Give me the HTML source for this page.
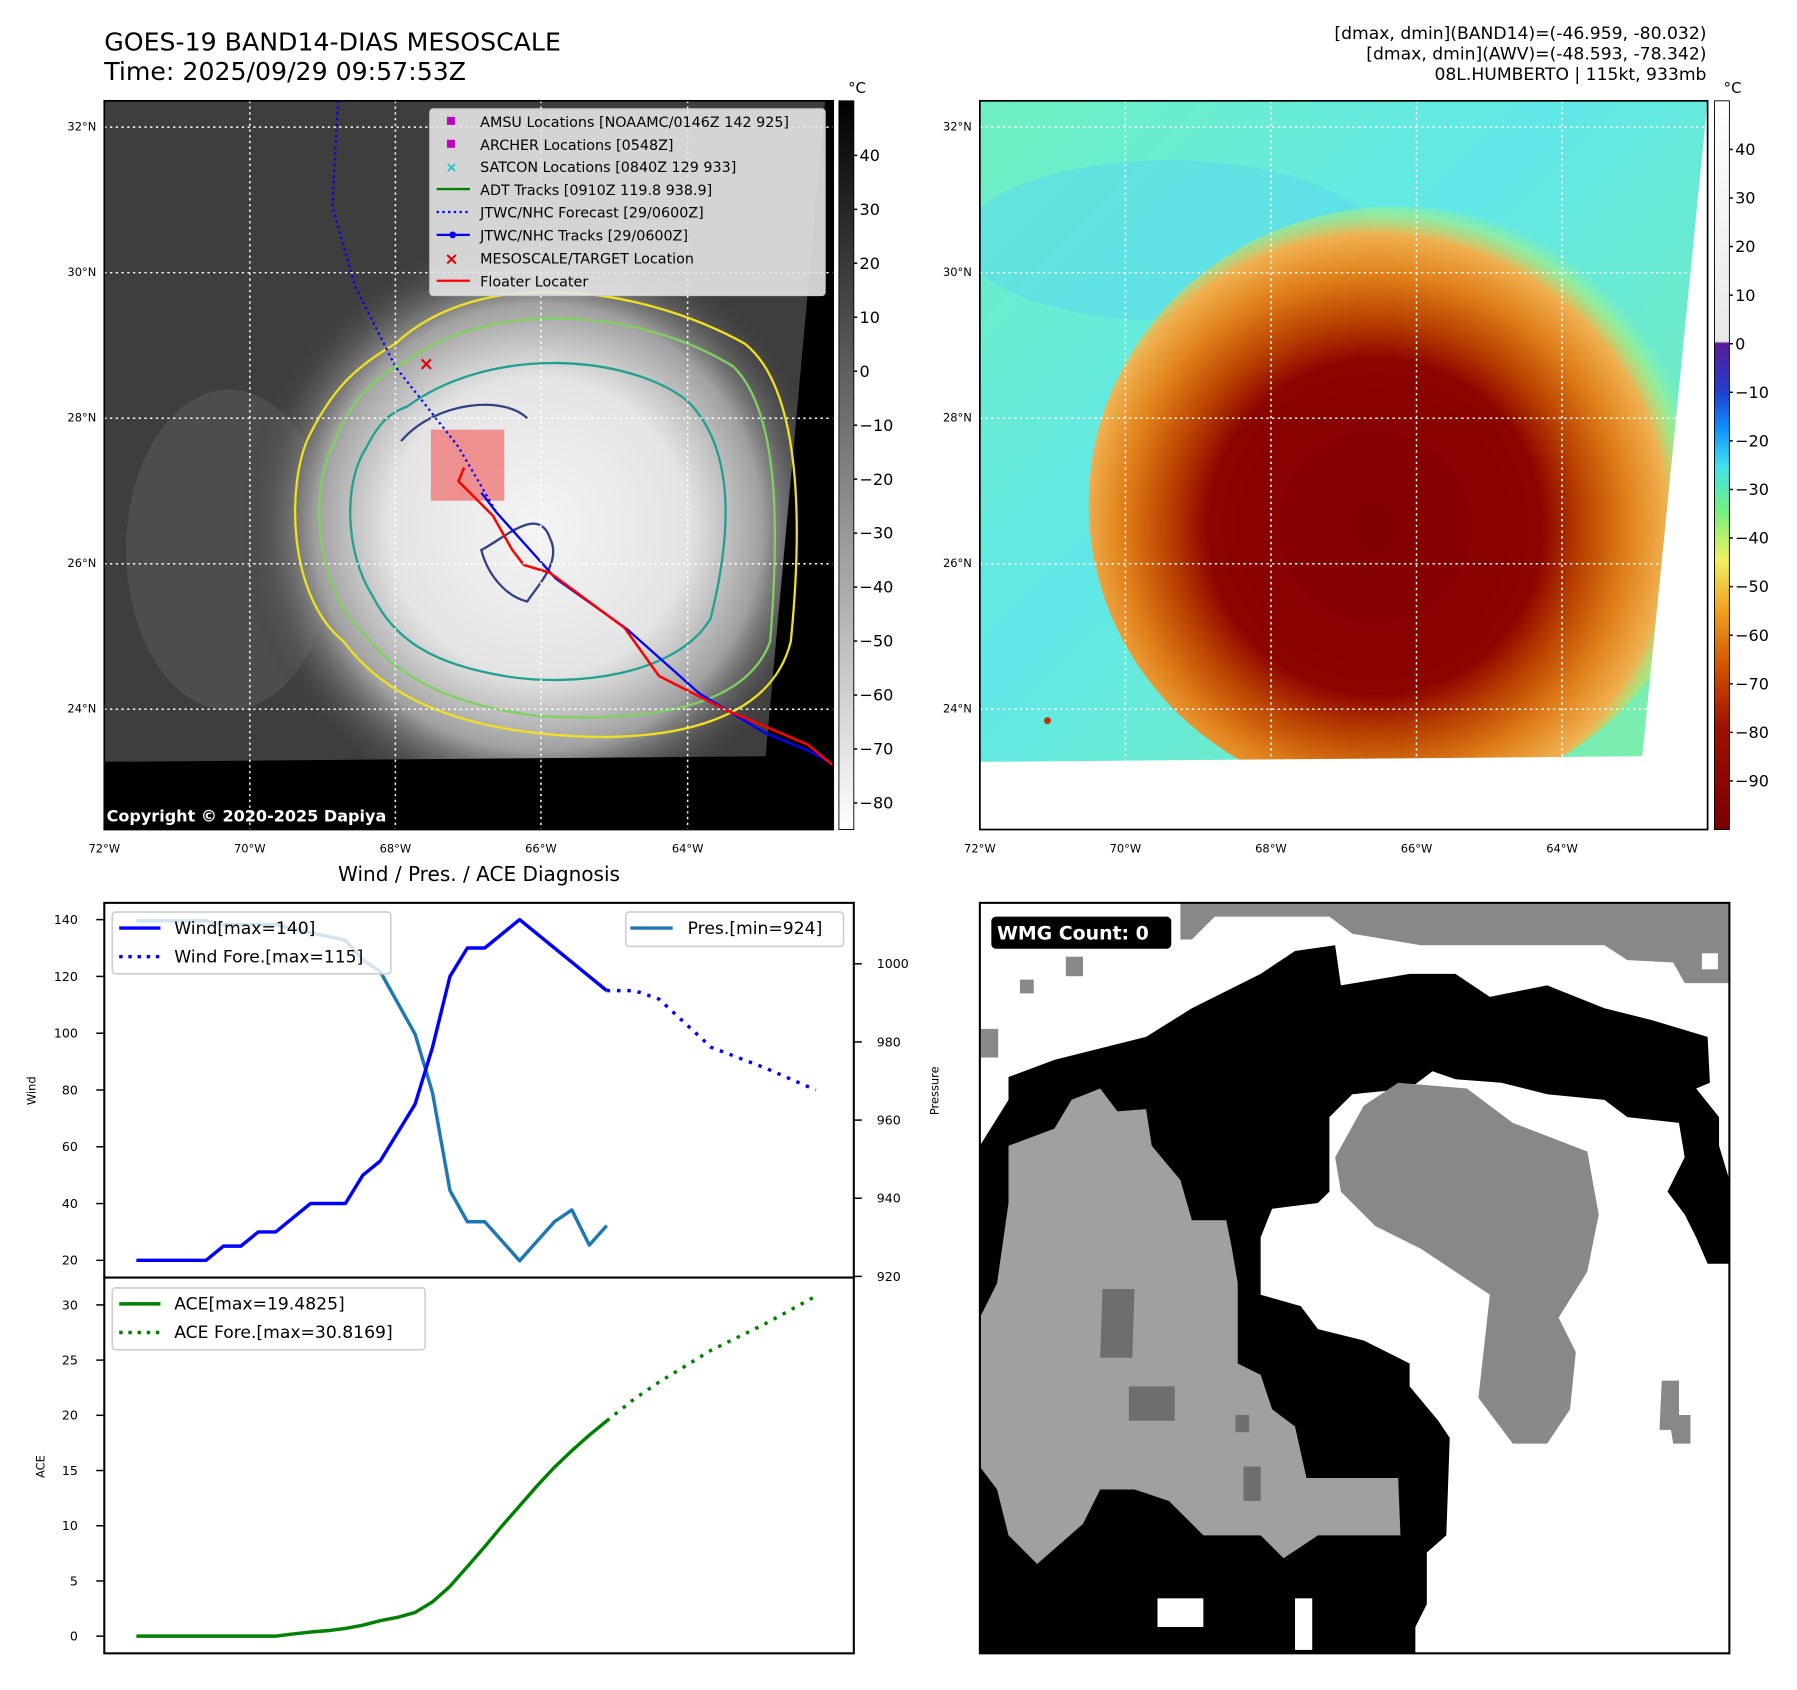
<!DOCTYPE html>
<html><head><meta charset="utf-8"><style>
html,body{margin:0;padding:0;background:#fff;}
svg{display:block;font-family:"DejaVu Sans","Liberation Sans",sans-serif;}
</style></head><body>
<svg id="root" width="1797" height="1690" viewBox="0 0 1568 1475" preserveAspectRatio="none" xmlns="http://www.w3.org/2000/svg">
<defs>
<clipPath id="clipL"><polygon points="91,88 720,88 668,660 91,665"/></clipPath>
<clipPath id="clipR"><polygon points="855,88 1490,88 1433,660 855,665"/></clipPath>
<radialGradient id="irGlow" cx="470" cy="460" r="260" gradientUnits="userSpaceOnUse">
<stop offset="0" stop-color="#f4f4f4"/><stop offset="0.5" stop-color="#e4e4e4"/><stop offset="0.75" stop-color="#a0a0a0"/><stop offset="1" stop-color="#3c3c3c" stop-opacity="0"/>
</radialGradient>
<linearGradient id="cbGray" x1="0" y1="0" x2="0" y2="1"><stop offset="0" stop-color="#000"/><stop offset="1" stop-color="#fff"/></linearGradient>
<linearGradient id="cbJet" x1="0" y1="88" x2="0" y2="724" gradientUnits="userSpaceOnUse">
<stop offset="0" stop-color="#ffffff"/><stop offset="0.33" stop-color="#e8e8e8"/><stop offset="0.333" stop-color="#5a1a9a"/>
<stop offset="0.4" stop-color="#2040d0"/><stop offset="0.45" stop-color="#1090ff"/><stop offset="0.5" stop-color="#40e0f0"/>
<stop offset="0.56" stop-color="#70f080"/><stop offset="0.63" stop-color="#f0f060"/><stop offset="0.7" stop-color="#f0a020"/>
<stop offset="0.78" stop-color="#d05000"/><stop offset="0.86" stop-color="#a01000"/><stop offset="1" stop-color="#7a0000"/>
</linearGradient>
<radialGradient id="hurr" cx="1200" cy="460" r="290" gradientUnits="userSpaceOnUse">
<stop offset="0" stop-color="#820000"/><stop offset="0.5" stop-color="#8a0400"/><stop offset="0.62" stop-color="#b84000"/>
<stop offset="0.76" stop-color="#e0801a"/><stop offset="0.88" stop-color="#f0b050"/><stop offset="0.95" stop-color="#b0f070" stop-opacity="0.5"/><stop offset="1" stop-color="#90f0a0" stop-opacity="0"/>
</radialGradient>
<linearGradient id="bgRight" x1="0" y1="0" x2="1" y2="1">
<stop offset="0" stop-color="#70f0c0"/><stop offset="0.4" stop-color="#60e8e8"/><stop offset="1" stop-color="#80f0a0"/>
</linearGradient>
</defs>

<!-- Titles -->
<text x="91" y="44" font-size="22">GOES-19 BAND14-DIAS MESOSCALE</text>
<text x="91" y="70" font-size="22">Time: 2025/09/29 09:57:53Z</text>
<g font-size="15" text-anchor="end">
<text x="1489" y="34">[dmax, dmin](BAND14)=(-46.959, -80.032)</text>
<text x="1489" y="52">[dmax, dmin](AWV)=(-48.593, -78.342)</text>
<text x="1489" y="70">08L.HUMBERTO | 115kt, 933mb</text>
</g>

<!-- Left IR map -->
<g>
<rect x="91" y="88" width="636" height="636" fill="#000"/>
<g clip-path="url(#clipL)">
<rect x="91" y="88" width="636" height="636" fill="#3e3e3e"/>
<ellipse cx="200" cy="480" rx="90" ry="140" fill="#6a6a6a" opacity="0.35"/>
<ellipse cx="470" cy="460" rx="270" ry="260" fill="url(#irGlow)"/>
</g>
<g fill="none" stroke-width="2">
<path d="M345,300 C420,230 560,250 650,300 C700,340 700,460 690,560 C670,640 560,650 470,640 C380,630 330,600 300,560 C250,520 250,420 270,380 C290,340 310,320 345,300Z" stroke="#f0e020"/>
<path d="M355,315 C430,260 560,270 640,320 C680,360 680,460 672,560 C650,620 560,630 470,625 C390,615 345,590 315,550 C275,510 270,430 290,390 C305,350 325,330 355,315Z" stroke="#80d060"/>
<path d="M355,355 C430,300 550,310 600,350 C640,390 640,460 620,540 C590,590 500,600 440,590 C380,580 345,560 325,520 C300,480 300,420 320,390 C330,370 340,360 355,355Z" stroke="#20a090"/>
<path d="M350,385 C380,350 440,345 460,365 M420,480 C440,470 470,440 480,470 C490,490 470,510 460,525 C440,520 425,500 420,480Z" stroke="#304080"/>
</g>
<rect x="376" y="375" width="64" height="62" fill="#f08080" opacity="0.85"/>
<polyline points="295,88 290,180 310,250 345,320 400,390 433,447" fill="none" stroke="#0000ff" stroke-width="2" stroke-dasharray="2,3"/>
<polyline points="420,430 433,447 485,505 547,549 610,605 668,640 705,655 727,667" fill="none" stroke="#0000ff" stroke-width="2"/>
<polyline points="405,408 400,420 430,450 447,480 457,493 480,500 545,548 575,590 634,620 670,635 705,650 727,668" fill="none" stroke="#ff0000" stroke-width="2.2"/>
<text x="372" y="323" font-size="16" font-weight="bold" fill="#e00000" text-anchor="middle">×</text>
</g>
<g stroke="#fff" stroke-width="1.3" stroke-dasharray="2,3">
<line x1="91" y1="111" x2="727" y2="111"/><line x1="91" y1="238" x2="727" y2="238"/><line x1="91" y1="365" x2="727" y2="365"/><line x1="91" y1="492" x2="727" y2="492"/><line x1="91" y1="619" x2="727" y2="619"/>
<line x1="218" y1="88" x2="218" y2="724"/><line x1="345" y1="88" x2="345" y2="724"/><line x1="472" y1="88" x2="472" y2="724"/><line x1="600" y1="88" x2="600" y2="724"/>
</g>
<g>
<rect x="375" y="95" width="345" height="163" rx="3" fill="#e4e4e4" fill-opacity="0.9" stroke="#ccc"/>
<g font-size="12.5">
<rect x="390" y="102" width="7" height="7" fill="#c000c0"/><text x="419" y="111">AMSU Locations [NOAAMC/0146Z 142 925]</text>
<rect x="390" y="122" width="7" height="7" fill="#c000c0"/><text x="419" y="131">ARCHER Locations [0548Z]</text>
<text x="394" y="150" fill="#20c0c0" text-anchor="middle" font-weight="bold">×</text><text x="419" y="150">SATCON Locations [0840Z 129 933]</text>
<line x1="381" y1="165" x2="410" y2="165" stroke="#008000" stroke-width="2"/><text x="419" y="170">ADT Tracks [0910Z 119.8 938.9]</text>
<line x1="381" y1="185" x2="410" y2="185" stroke="#0000ff" stroke-width="2" stroke-dasharray="2,3"/><text x="419" y="190">JTWC/NHC Forecast [29/0600Z]</text>
<line x1="381" y1="205" x2="410" y2="205" stroke="#0000ff" stroke-width="2"/><circle cx="395" cy="205" r="3" fill="#0000ff"/><text x="419" y="210">JTWC/NHC Tracks [29/0600Z]</text>
<text x="394" y="231" fill="#e00000" text-anchor="middle" font-weight="bold" font-size="15">×</text><text x="419" y="230">MESOSCALE/TARGET Location</text>
<line x1="381" y1="245" x2="410" y2="245" stroke="#ff0000" stroke-width="2"/><text x="419" y="250">Floater Locater</text>
</g></g>
<text x="93" y="717" font-size="14" font-weight="bold" fill="#fff">Copyright © 2020-2025 Dapiya</text>
<rect x="91" y="88" width="636" height="636" fill="none" stroke="#000" stroke-width="1.5"/>
<g font-size="10">
<g text-anchor="end"><text x="84" y="114">32°N</text><text x="84" y="241">30°N</text><text x="84" y="368">28°N</text><text x="84" y="495">26°N</text><text x="84" y="622">24°N</text></g>
<g text-anchor="middle"><text x="91" y="744">72°W</text><text x="218" y="744">70°W</text><text x="345" y="744">68°W</text><text x="472" y="744">66°W</text><text x="600" y="744">64°W</text></g>
</g>
<g>
<rect x="732" y="88" width="13" height="636" fill="url(#cbGray)" stroke="#000" stroke-width="0.8"/>
<text x="740" y="81" font-size="13">°C</text>
<g id="cbL" font-size="14"></g>
</g>

<!-- Right AWV map -->
<g>
<rect x="855" y="88" width="635" height="636" fill="#fff"/>
<g clip-path="url(#clipR)">
<rect x="855" y="88" width="635" height="636" fill="url(#bgRight)"/>
<ellipse cx="1020" cy="210" rx="180" ry="70" fill="#5ad8f0" opacity="0.5"/>
<ellipse cx="1220" cy="440" rx="270" ry="260" fill="url(#hurr)"/>
</g>
<circle cx="914" cy="629" r="3" fill="#c03000"/>
</g>
<g stroke="#fff" stroke-width="1.3" stroke-dasharray="2,3">
<line x1="855" y1="111" x2="1490" y2="111"/><line x1="855" y1="238" x2="1490" y2="238"/><line x1="855" y1="365" x2="1490" y2="365"/><line x1="855" y1="492" x2="1490" y2="492"/><line x1="855" y1="619" x2="1490" y2="619"/>
<line x1="982" y1="88" x2="982" y2="724"/><line x1="1109" y1="88" x2="1109" y2="724"/><line x1="1236" y1="88" x2="1236" y2="724"/><line x1="1363" y1="88" x2="1363" y2="724"/>
</g>
<rect x="855" y="88" width="635" height="636" fill="none" stroke="#000" stroke-width="1.5"/>
<g font-size="10">
<g text-anchor="end"><text x="848" y="114">32°N</text><text x="848" y="241">30°N</text><text x="848" y="368">28°N</text><text x="848" y="495">26°N</text><text x="848" y="622">24°N</text></g>
<g text-anchor="middle"><text x="855" y="744">72°W</text><text x="982" y="744">70°W</text><text x="1109" y="744">68°W</text><text x="1236" y="744">66°W</text><text x="1363" y="744">64°W</text></g>
</g>
<g>
<rect x="1496" y="88" width="13" height="636" fill="url(#cbJet)" stroke="#000" stroke-width="0.8"/>
<text x="1504" y="81" font-size="13">°C</text>
<g id="cbR" font-size="14"></g>
</g>

<!-- Diagnosis charts -->
<text x="418" y="769" font-size="17.5" text-anchor="middle">Wind / Pres. / ACE Diagnosis</text>
<g id="charts"></g>
<rect x="91" y="788" width="654" height="327" fill="none" stroke="#000" stroke-width="1.8"/>
<rect x="91" y="1115" width="654" height="328" fill="none" stroke="#000" stroke-width="1.8"/>
<text transform="translate(31,952) rotate(-90)" font-size="10" text-anchor="middle">Wind</text>
<text transform="translate(819,952) rotate(-90)" font-size="10" text-anchor="middle">Pressure</text>
<text transform="translate(39,1280) rotate(-90)" font-size="10" text-anchor="middle">ACE</text>
<g>
<rect x="98" y="796" width="243" height="54" rx="3" fill="#fff" fill-opacity="0.8" stroke="#d0d0d0" stroke-width="1.5"/>
<line x1="104" y1="810" x2="140" y2="810" stroke="#0000ff" stroke-width="3"/><text x="152" y="815" font-size="15">Wind[max=140]</text>
<line x1="104" y1="835" x2="140" y2="835" stroke="#0000ff" stroke-width="3" stroke-dasharray="3,5"/><text x="152" y="840" font-size="15">Wind Fore.[max=115]</text>
</g>
<g>
<rect x="546" y="796" width="190" height="30" rx="3" fill="#fff" fill-opacity="0.8" stroke="#d0d0d0" stroke-width="1.5"/>
<line x1="550" y1="810" x2="587" y2="810" stroke="#1f77b4" stroke-width="3"/><text x="600" y="815" font-size="15">Pres.[min=924]</text>
</g>
<g>
<rect x="98" y="1124" width="273" height="54" rx="3" fill="#fff" fill-opacity="0.8" stroke="#d0d0d0" stroke-width="1.5"/>
<line x1="104" y1="1138" x2="140" y2="1138" stroke="#008000" stroke-width="3"/><text x="152" y="1143" font-size="15">ACE[max=19.4825]</text>
<line x1="104" y1="1163" x2="140" y2="1163" stroke="#008000" stroke-width="3" stroke-dasharray="3,5"/><text x="152" y="1168" font-size="15">ACE Fore.[max=30.8169]</text>
</g>

<!-- WMG panel -->
<g>
<rect x="855" y="788" width="654" height="655" fill="#fff"/>
<polygon points="1030,788 1509,788 1509,858 1470,858 1460,840 1420,838 1400,825 1240,825 1180,815 1160,800 1060,800 1040,820 1030,820" fill="#888"/>
<polygon points="855,1000 880,960 880,940 920,925 1000,905 1040,880 1100,850 1130,830 1165,825 1170,860 1230,850 1270,850 1300,870 1350,860 1400,880 1440,890 1490,905 1492,945 1480,950 1500,975 1500,1000 1509,1030 1509,1103 1490,1103 1480,1080 1470,1060 1455,1040 1470,1010 1465,980 1420,975 1400,960 1350,955 1310,945 1270,942 1250,935 1230,950 1180,955 1160,975 1160,1040 1150,1050 1110,1055 1100,1080 1100,1130 1135,1140 1150,1160 1190,1170 1230,1190 1230,1210 1255,1240 1265,1255 1262,1340 1245,1355 1245,1400 1235,1420 1235,1443 855,1443" fill="#000"/>
<polygon points="1225,1080 1235,1070 1245,1085 1245,1100 1230,1105" fill="#fff"/>
<polygon points="880,1050 880,1000 920,985 935,960 960,950 975,970 1000,968 1005,1000 1030,1030 1040,1065 1070,1065 1075,1090 1080,1120 1080,1190 1100,1200 1110,1230 1130,1245 1140,1290 1220,1290 1222,1340 1150,1340 1120,1360 1100,1340 1050,1340 1020,1310 990,1300 960,1300 945,1330 905,1365 880,1340 870,1300 855,1280 855,1150 870,1120" fill="#a0a0a0"/>
<polygon points="962,1125 990,1125 988,1185 960,1185" fill="#6e6e6e"/>
<rect x="985" y="1210" width="40" height="30" fill="#6e6e6e"/>
<rect x="1078" y="1235" width="12" height="15" fill="#6e6e6e"/>
<rect x="1085" y="1280" width="15" height="30" fill="#6e6e6e"/>
<polygon points="1165,1010 1190,965 1220,945 1280,950 1320,980 1385,1005 1395,1060 1385,1110 1360,1150 1375,1180 1370,1230 1350,1260 1320,1260 1290,1220 1300,1130 1270,1110 1240,1090 1200,1070 1170,1040" fill="#888"/>
<polygon points="1450,1205 1465,1205 1465,1235 1475,1235 1475,1260 1460,1260 1458,1248 1448,1248" fill="#888"/>
<rect x="1010" y="1395" width="40" height="25" fill="#fff"/>
<rect x="1130" y="1395" width="15" height="45" fill="#fff"/>
<rect x="890" y="855" width="12" height="12" fill="#888"/>
<rect x="930" y="835" width="15" height="17" fill="#888"/>
<rect x="856" y="898" width="15" height="25" fill="#888"/>
<rect x="1485" y="832" width="14" height="14" fill="#fff"/>
<rect x="865" y="800" width="157" height="28" rx="4" fill="#000"/>
<text x="870" y="820" font-size="16.5" font-weight="bold" fill="#fff">WMG Count: 0</text>
<rect x="855" y="788" width="654" height="655" fill="none" stroke="#000" stroke-width="1.8"/>
</g>
</svg>
<script>
// Chart data (6-hourly index)
const obsIndex = [0,1,2,3,4,5,6,7,8,9,10,11,12,13,14,15,16,17,18,19,20,21,22,23,24,25,26,27];
const windObs = [20,20,20,20,20,25,25,30,30,35,40,40,40,50,55,65,75,95,120,130,130,135,140,135,130,125,120,115];
const presObs = [1011,1011,1011,1011,1011,1010,1010,1010,1010,1009,1008,1007,1006,1001,998,990,982,967,942,934,934,929,924,929,934,937,928,933];
const aceObs = [0,0,0,0,0,0,0,0,0,0.2,0.37,0.5,0.7,1.0,1.4,1.7,2.15,3.1,4.5,6.3,8.1,10.0,11.8,13.6,15.3,16.8,18.2,19.5];
const foreIndex = [27,28.6,30,33,36,39];
const windFore = [115,115,112,95,88,80];
const aceFore = [19.5,21.5,23,25.9,28.2,30.8];
const windTicks = [20,40,60,80,100,120,140];
const presTicks = [920,940,960,980,1000];
const aceTicks = [0,5,10,15,20,25,30];
const irCbTicks = [40,30,20,10,0,-10,-20,-30,-40,-50,-60,-70,-80];
const awvCbTicks = [40,30,20,10,0,-10,-20,-30,-40,-50,-60,-70,-80,-90];

const NS = 'http://www.w3.org/2000/svg';
const xS = i => 119 + i * 15.2;
const yWind = v => 1100 - (v - 20) * 2.478;
const yPres = v => 1114 - (v - 920) * 3.41;
const yAce = v => 1428 - v * 9.637;
const yIrCb = v => 324 - v * 4.71;
const yAwvCb = v => 300 - v * 4.24;
function mk(tag, attrs, parent) { const e = document.createElementNS(NS, tag); for (const k in attrs) e.setAttribute(k, attrs[k]); parent.appendChild(e); return e; }
const charts = document.getElementById('charts');
function line(xs, ys, fy, color, dash, name) {
  const pts = xs.map((x, i) => xS(x).toFixed(1) + ',' + fy(ys[i]).toFixed(1)).join(' ');
  const p = mk('polyline', {points: pts, fill: 'none', stroke: color, 'stroke-width': 3, 'stroke-linejoin': 'round'}, charts);
  if (dash) p.setAttribute('stroke-dasharray', dash);
  
  
}
line(obsIndex, presObs, yPres, '#1f77b4', null, 'pressure-line');
line(obsIndex, windObs, yWind, '#0000ff', null, 'wind-line');
line(foreIndex, windFore, yWind, '#0000ff', '3,6', 'wind-forecast-line');
line(obsIndex, aceObs, yAce, '#008000', null, 'ace-line');
line(foreIndex, aceFore, yAce, '#008000', '3,6', 'ace-forecast-line');
function ticks(vals, fy, x0, x1, tx, anchor, name, parent, fs, minus) {
  vals.forEach(v => {
    const y = fy(v);
    mk('line', {x1: x0, x2: x1, y1: y, y2: y, stroke: '#000', 'stroke-width': 1.3}, parent);
    const t = mk('text', {x: tx, y: y + fs * 0.35, 'font-size': fs, 'text-anchor': anchor}, parent);
    t.textContent = minus ? String(v).replace('-', '\u2212') : String(v);
    
    
  });
}
ticks(windTicks, yWind, 84, 91, 68, 'end', 'wind-tick-label', charts, 11);
ticks(presTicks, yPres, 745, 752, 765, 'start', 'pressure-tick-label', charts, 11);
ticks(aceTicks, yAce, 84, 91, 68, 'end', 'ace-tick-label', charts, 11);
ticks(irCbTicks, yIrCb, 745, 748, 750, 'start', 'ir-colorbar-tick', document.getElementById('cbL'), 14, true);
ticks(awvCbTicks, yAwvCb, 1509, 1512, 1514, 'start', 'awv-colorbar-tick', document.getElementById('cbR'), 14, true);
</script>
</body></html>
